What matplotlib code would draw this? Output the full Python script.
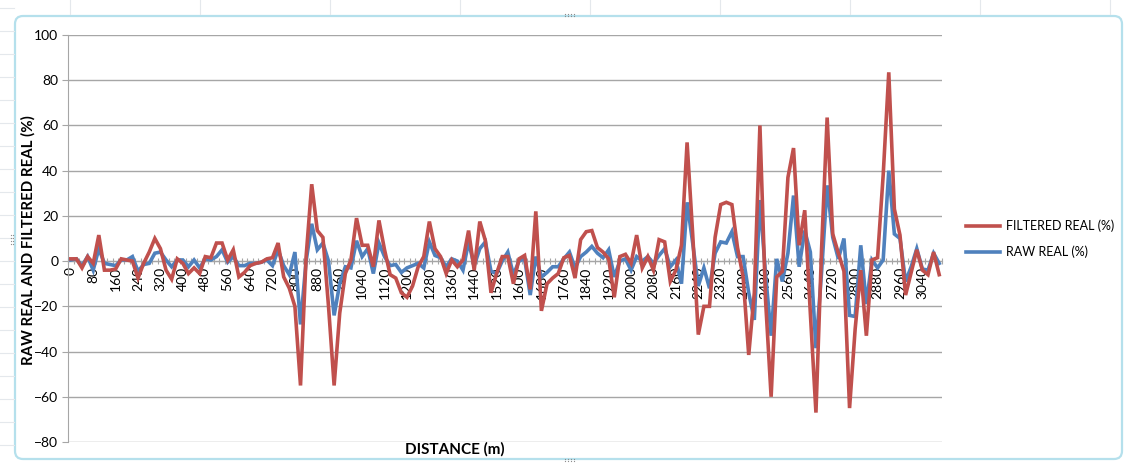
import numpy as np
import matplotlib
matplotlib.use("Agg")
import matplotlib.pyplot as plt
from matplotlib.patches import FancyBboxPatch
from matplotlib.lines import Line2D

# Distance stations every 20 m, labelled every 80 m
distance = list(range(0, 3120, 20))
tick_labels = [str(d) for d in distance[::4]]

filtered_real = [
    1, 1, -3, 2, -1, 11.5, -4, -4, -3.5, 1,
    0.5, 0, -7.5, -1, 4, 10, 5.5, -4, -8, 1,
    -1, -5.5, -3, -5.5, 2, 1.5, 8, 8, 0.5, 5,
    -7, -5, -2, -1, -0.5, 1, 1.5, 8, -7, -12,
    -20, -55, 2, 34, 13.5, 10.5, -20, -55, -23, -5.5,
    0.5, 19, 7, 7, -2.5, 18, 5, -6, -7.5, -14,
    -16, -11, -2.5, 2, 17.5, 5.5, 2, -5.5, 0.5, -2.5,
    0.5, 13.5, -4, 17.5, 9, -14, -5.5, 2, 2, -10,
    1, 2.5, -12.5, 22, -22, -10, -7.5, -5.5, 1.5, 2.5,
    -7.5, 9.5, 13, 13.5, 6, 4, 1, -16, 2, 3,
    -1, 11.5, -3, 2, -4, 9.5, 8.5, -9, -4, 7,
    52.5, 12, -32.5, -20, -20, 10.5, 25, 26, 25, 6,
    -7, -41.5, -14, 60, -17, -60, -7, -4.5, 37, 50,
    7, 22.5, -23, -67, 5, 63.5, 12, 3.5, -4.5, -65,
    -30, -4, -33, 0.5, 1.5, 38, 83.5, 23, 11.5, -15,
    -5, 5, -4, -6, 4, -6,
]

raw_real = [
    0.5, 1, -2, 2, -4, 5.5, -1, -1.5, -2, 0.5,
    0.5, 2, -4.5, -1.5, -1, 3.5, 4, 0.5, -2.5, 0.5,
    0.5, -2.5, 0.5, -3, 1, 0.5, 2, 5, -0.5, 2,
    -2, -2, -1, -1, -0.5, 0.5, -2, 5, -2, -6,
    4, -28, 0, 16.5, 5, 8, 0, -24, -10, -2.5,
    -3, 9, 2, 5.5, -5.5, 8, 2, -2, -1.5, -5,
    -3, -2, -1, -3, 8.5, 2.5, 1.5, -2.5, 1, 0,
    -4, 8.5, -2, 5.5, 8.5, -4.5, -5.5, 0, 4, -6,
    0, 1, -15, 2, -7, -5, -2.5, -2.5, 1, 4,
    -3, 2, 4, 6.5, 3.5, 1.5, 5, -7, 0, 1,
    -4, 2, 0, 2, -1, 2.5, 5.5, -2.5, 0.5, -10,
    26, 8, -11, -3, -12, 3.5, 8.5, 8, 13, 2,
    2, -14, -26, 27, -5.5, -33, 1, -9, 3.5, 29,
    -2.5, 13.5, 4, -38.5, -5, 33.5, 10.5, 1, 10, -24,
    -24.5, 7, -19, 0.5, -3, 0.5, 40, 12, 10, -9,
    -2.5, 5.5, -3.5, -4, 3.5, -1,
]

red = "#C0504D"
blue = "#4F81BD"
grid_gray = "#A6A6A6"
font = ["Lato", "DejaVu Sans"]
plt.rcParams["font.family"] = font

W, H = 1127, 463
fig = plt.figure(figsize=(W / 100, H / 100), dpi=100)

# pixel-space background layer: sheet cells and the chart frame
bg = fig.add_axes([0, 0, 1, 1], zorder=0)
bg.set_xlim(0, W)
bg.set_ylim(H, 0)
bg.axis("off")
for yy in range(8, H, 23):
    bg.plot([0, 14], [yy, yy], color="#E4E8EC", lw=0.8)
for xx in [70, 200, 330, 460, 590, 720, 850, 980, 1110]:
    bg.plot([xx, xx], [0, 14], color="#E4E8EC", lw=0.8)
bg.add_patch(FancyBboxPatch((15, 16), 1107, 443,
                            boxstyle="round,pad=0,rounding_size=8",
                            facecolor="white", edgecolor="#B5E0EC", lw=1.6))

# small resize grips on the frame
grip = dict(ls="none", marker="o", ms=0.9, mew=0, color="#8A8A8A")
for hx, hy in [(570, 15), (570, 460)]:
    bg.plot([hx - 5, hx - 2, hx + 1, hx + 4] * 2,
            [hy - 1.2] * 4 + [hy + 1.2] * 4, **grip)
bg.plot([10.8] * 4 + [13.2] * 4, [235, 238, 241, 244] * 2, **grip)

ax = fig.add_axes([68 / W, 21 / H, 874 / W, 407 / H], zorder=1)
ax.patch.set_alpha(0)

x = np.arange(len(distance))
ax.plot(x, raw_real, color=blue, lw=2.6, solid_joinstyle="miter", zorder=3)
ax.plot(x, filtered_real, color=red, lw=2.6, solid_joinstyle="miter", zorder=4)

ax.set_xlim(-0.5, len(distance) - 0.5)
ax.set_ylim(-80, 100)
ax.set_yticks(range(-80, 101, 20))
ax.yaxis.grid(True, color=grid_gray, lw=1)
ax.set_axisbelow(True)

ax.spines["top"].set_visible(False)
ax.spines["right"].set_visible(False)
ax.spines["left"].set_color(grid_gray)
ax.spines["bottom"].set_color(grid_gray)
ax.spines["bottom"].set_position(("data", 0))

ax.set_xticks(x[::4])
ax.set_xticklabels(tick_labels, rotation=90, fontsize=10)
ax.set_xticks(np.arange(-0.5, len(distance), 1), minor=True)
ax.tick_params(axis="x", which="major", length=0, pad=4)
ax.tick_params(axis="x", which="minor", length=4, direction="inout",
               color=grid_gray, width=0.8)
ax.tick_params(axis="y", length=4, color=grid_gray, labelsize=10, pad=3)

fig.text(28 / W, 1 - 240 / H, "RAW REAL AND FILTERED REAL (%)", rotation=90,
         ha="center", va="center", fontsize=10.8, fontweight="bold")
fig.text(455 / W, 1 - 449 / H, "DISTANCE (m)", ha="center", va="center",
         fontsize=11, fontweight="bold")

handles = [Line2D([], [], color=red, lw=2.6), Line2D([], [], color=blue, lw=2.6)]
fig.legend(handles, ["FILTERED REAL (%)", "RAW REAL (%)"],
           loc="center left", bbox_to_anchor=(966 / W, 1 - 239 / H),
           frameon=False, fontsize=9, handlelength=2.7, handletextpad=0.5,
           labelspacing=1.05, borderpad=0, borderaxespad=0)

fig.savefig("out.png", dpi=100, facecolor="white")
